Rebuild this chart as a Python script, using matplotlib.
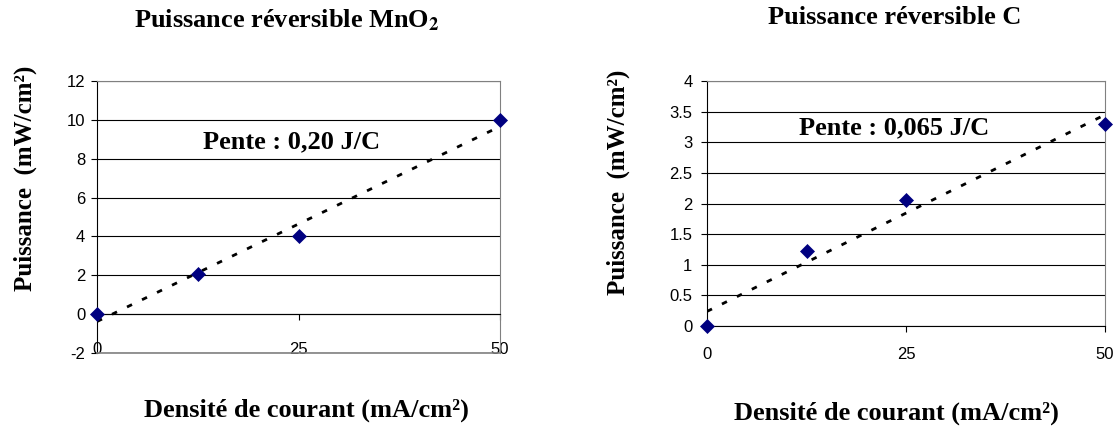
import numpy as np
import matplotlib
matplotlib.use("Agg")
import matplotlib.pyplot as plt
from matplotlib.ticker import FuncFormatter

# data
densite = [0, 12.5, 25, 50]          # mA/cm²
puissance_mno2 = [0, 2.05, 4.0, 10.0]  # mW/cm²
puissance_c = [0, 1.22, 2.05, 3.3]     # mW/cm²
xticks = [0, 25, 50]
yticks_mno2 = [-2, 0, 2, 4, 6, 8, 10, 12]
yticks_c = [0, 0.5, 1, 1.5, 2, 2.5, 3, 3.5, 4]
titles = ["Puissance réversible MnO$_\\mathbf{2}$", "Puissance réversible C"]
pentes = ["Pente : 0,20 J/C", "Pente : 0,065 J/C"]
xlabel = "Densité de courant (mA/cm²)"
ylabel = "Puissance  (mW/cm²)"

plt.rcParams['axes.unicode_minus'] = False
plt.rcParams['mathtext.fontset'] = 'stix'
serif = 'Liberation Serif'
sans = 'Liberation Sans'
W, H = 1114, 430

fig = plt.figure(figsize=(W / 100, H / 100), dpi=100)


def px(x, y):
    return x / W, 1 - y / H


def draw(ax, y, yticks, xpad, ypad, cross_zero):
    ax.set_axisbelow(True)
    ax.grid(axis='y', color='black', lw=0.8)
    ax.set_xlim(0, 50)
    ax.set_ylim(yticks[0], yticks[-1])
    ax.set_xticks(xticks)
    ax.set_yticks(yticks)
    ax.yaxis.set_major_formatter(FuncFormatter(lambda v, p: '{:g}'.format(v)))
    for s in ['top', 'right']:
        ax.spines[s].set_color('#808080')
    ax.spines['left'].set_color('black')
    ax.spines['bottom'].set_color('black')
    if cross_zero:
        ax.spines['bottom'].set_position(('data', 0))
        ax.axhline(yticks[0], color='#808080', lw=1.2, zorder=3, clip_on=False)
    ax.tick_params(axis='both', direction='out', length=4, width=0.8,
                   labelsize=12, color='black')
    ax.tick_params(axis='x', pad=xpad)
    ax.tick_params(axis='y', pad=ypad)
    for lab in ax.get_xticklabels() + ax.get_yticklabels():
        lab.set_fontfamily(sans)
    # linear trend line (Excel style)
    a, b = np.polyfit(densite, y, 1)
    xs = np.array([min(densite), max(densite)])
    ax.plot(xs, a * xs + b, color='black', lw=2, linestyle=(0, (2, 4)), zorder=4)
    ax.plot(densite, y, linestyle='none', marker='D', markersize=7.5,
            color='#000080', markeredgewidth=0.5, zorder=5, clip_on=False)


ax1 = fig.add_axes([97 / W, 1 - 353 / H, 403 / W, 272 / H])
draw(ax1, puissance_mno2, yticks_mno2, 16, 4.5, True)
ax2 = fig.add_axes([707 / W, 1 - 326 / H, 398 / W, 245 / H])
draw(ax2, puissance_c, yticks_c, 11, 6.5, False)

bold = dict(family=serif, fontweight='bold', ha='center', va='center')
fig.text(*px(287, 20), titles[0], fontsize=19, **bold)
fig.text(*px(895, 18), titles[1], fontsize=19, **bold)
fig.text(*px(292, 142), pentes[0], fontsize=19, **bold)
fig.text(*px(894, 128), pentes[1], fontsize=19, **bold)
fig.text(*px(306, 410), xlabel, fontsize=19, **bold)
fig.text(*px(896, 413), xlabel, fontsize=19, **bold)
fig.text(*px(25, 178), ylabel, fontsize=18, rotation=90, **bold)
fig.text(*px(618, 182), ylabel, fontsize=18, rotation=90, **bold)

fig.savefig('out.png', dpi=100)
